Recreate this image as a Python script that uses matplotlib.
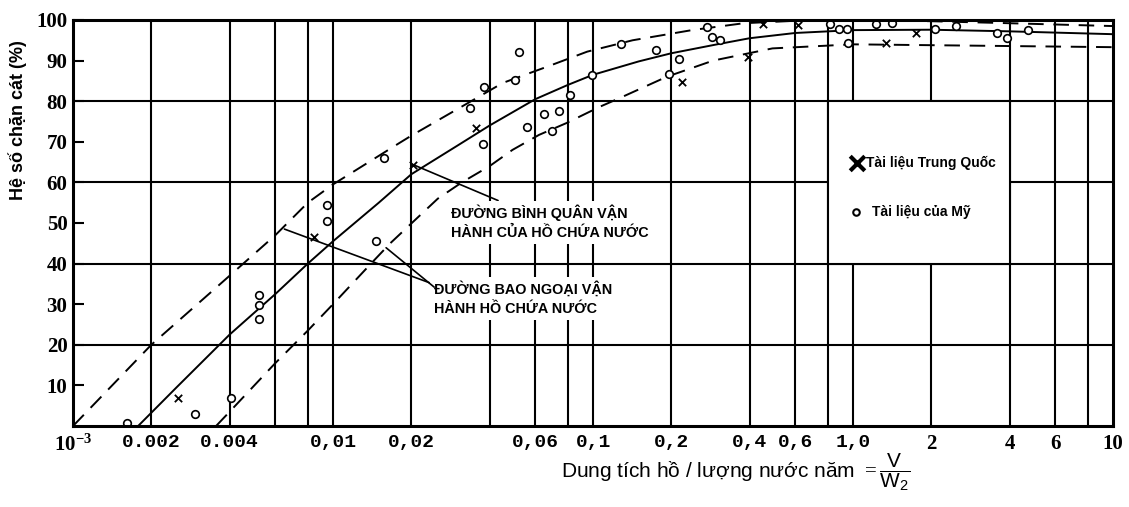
import numpy as np
import matplotlib
matplotlib.use("Agg")
import matplotlib.pyplot as plt
from matplotlib.patches import Rectangle

plt.rcParams["font.family"] = ["Liberation Sans", "DejaVu Sans"]
plt.rcParams["mathtext.fontset"] = "custom"
plt.rcParams["mathtext.rm"] = "Liberation Serif"
plt.rcParams["mathtext.bf"] = "Liberation Serif:bold"
plt.rcParams["mathtext.sf"] = "Liberation Sans"

# đường bình quân (nét liền)
mean_x = [0.00178, 0.0025, 0.004, 0.006, 0.008, 0.01, 0.015, 0.02, 0.03, 0.04, 0.06,
          0.08, 0.1, 0.15, 0.2, 0.3, 0.4, 0.6, 1.0, 2.0, 4.0, 10.0]
mean_y = [0, 9.5, 22.5, 32.5, 40, 45.5, 55, 62, 69, 74, 80.5,
          84, 86.5, 89.8, 91.8, 94, 95.5, 96.8, 97.5, 97.6, 97.2, 96.5]

# đường bao trên (nét đứt)
up_x = [0.001, 0.002, 0.004, 0.006, 0.008, 0.01, 0.018, 0.02, 0.03, 0.045, 0.066,
        0.095, 0.142, 0.24, 0.38, 0.6, 1.0, 2.0, 4.0, 10.0]
up_y = [0, 20, 37, 47, 55, 59.5, 69.7, 71.5, 78, 84.5, 88.4,
        92.2, 95, 97.5, 99.2, 99.8, 100, 99.7, 99.2, 98.5]

# đường bao dưới (nét đứt)
lo_x = [0.00355, 0.004, 0.006, 0.008, 0.01, 0.014, 0.0166, 0.0201, 0.0253, 0.0313,
        0.04, 0.049, 0.062, 0.079, 0.106, 0.127, 0.192, 0.29, 0.49, 1.0, 10.0]
lo_y = [0, 3.5, 15.5, 23.5, 30, 40, 45, 50, 56, 60,
        64, 68, 71.7, 74.6, 78.6, 80.8, 86, 90, 93, 94, 93.3]

# tài liệu của Mỹ
us_x = [0.00161, 0.00294, 0.00404, 0.00521, 0.00521, 0.00521, 0.0095, 0.0095, 0.0146,
        0.0157, 0.0336, 0.0379, 0.0382, 0.0501, 0.0521, 0.0556, 0.0646, 0.0742, 0.0693,
        0.0816, 0.0994, 0.128, 0.175, 0.196, 0.215, 0.275, 0.288, 0.308, 0.818, 0.88,
        0.946, 0.959, 1.23, 1.41, 2.07, 2.5, 3.57, 3.9, 4.72]
us_y = [0.7, 3.0, 6.9, 32.3, 29.8, 26.4, 54.4, 50.6, 45.6,
        65.9, 78.4, 69.5, 83.6, 85.2, 92.0, 73.7, 76.8, 77.7, 72.7,
        81.4, 86.5, 94.1, 92.7, 86.8, 90.3, 98.3, 95.8, 95.0, 99, 97.9,
        97.9, 94.3, 99, 99.2, 97.7, 98.4, 96.7, 95.5, 97.5]

# tài liệu Trung Quốc
cn_x = [0.00254, 0.00845, 0.0203, 0.0355, 0.219, 0.395, 0.452, 0.617, 1.34, 1.75]
cn_y = [6.9, 46.6, 64.3, 73.3, 84.7, 90.9, 99.1, 98.7, 94.3, 96.7]

grid_x = [0.002, 0.004, 0.006, 0.008, 0.01, 0.02, 0.04, 0.06, 0.08, 0.1,
          0.2, 0.4, 0.6, 0.8, 1.0, 2.0, 4.0, 6.0, 8.0]
grid_y = [20, 40, 60, 80]
tick_x = [0.001, 0.002, 0.004, 0.01, 0.02, 0.06, 0.1, 0.2, 0.4, 0.6, 1.0, 2.0, 4.0, 6.0, 10.0]
tick_lab = [r"$\mathbf{10^{-3}}$", "0.002", "0.004", "0,01", "0,02", "0,06", "0,1",
            "0,2", "0,4", "0,6", "1,0", "2", "4", "6", "10"]

fig = plt.figure(figsize=(11.29, 5.07), dpi=100)
ax = fig.add_axes([0.0647, 0.1598, 0.9211, 0.8008])
ax.set_xscale("log")
ax.set_xlim(0.001, 10)
ax.set_ylim(0, 100)

for gx in grid_x:
    ax.axvline(gx, color="black", lw=1.5, zorder=1)
for gy in grid_y:
    ax.axhline(gy, color="black", lw=1.5, zorder=1)

# ô chú giải
ax.add_patch(Rectangle((0.8, 40), 3.2, 40, facecolor="white", edgecolor="black",
                       lw=1.5, zorder=1.5))

ax.plot(mean_x, mean_y, color="black", lw=1.4, zorder=3)
ax.plot(up_x, up_y, color="black", lw=1.4, ls=(0, (8, 5)), zorder=3)
ax.plot(lo_x, lo_y, color="black", lw=1.4, ls=(0, (8, 5)), zorder=3)
ax.scatter(us_x, us_y, s=30, facecolors="white", edgecolors="black", linewidths=1.2, zorder=4)
ax.scatter(cn_x, cn_y, s=28, marker="x", color="black", linewidths=1.3, zorder=4)

box = dict(facecolor="white", edgecolor="none", pad=3)
ax.annotate("ĐƯỜNG BÌNH QUÂN VẬN\nHÀNH CỦA HỒ CHỨA NƯỚC", xy=(0.0201, 64.5),
            xytext=(0.0285, 54.5), ha="left", va="top", fontsize=10.4, fontweight="bold",
            linespacing=1.45, bbox=box, zorder=5,
            arrowprops=dict(arrowstyle="-", color="black", lw=1.2, shrinkA=0, shrinkB=0))
ax.annotate("ĐƯỜNG BAO NGOẠI VẬN\nHÀNH HỒ CHỨA NƯỚC", xy=(0.0065, 48.5),
            xytext=(0.0245, 35.7), ha="left", va="top", fontsize=10.4, fontweight="bold",
            linespacing=1.45, bbox=box, zorder=5,
            arrowprops=dict(arrowstyle="-", color="black", lw=1.2, shrinkA=0, shrinkB=0,
                            relpos=(0, 0.9)))
ax.annotate("", xy=(0.016, 43.9), xytext=(0.0245, 34.2), zorder=5,
            arrowprops=dict(arrowstyle="-", color="black", lw=1.2, shrinkA=0, shrinkB=0))

# chú giải
ax.scatter([1.036], [64.8], s=110, marker="x", color="black", linewidths=3, zorder=4)
ax.text(1.12, 64.8, "Tài liệu Trung Quốc", fontsize=10, fontweight="bold", va="center", zorder=5)
ax.scatter([1.03], [52.7], s=22, facecolors="white", edgecolors="black", linewidths=1.5, zorder=4)
ax.text(1.18, 52.7, "Tài liệu của Mỹ", fontsize=10, fontweight="bold", va="center", zorder=5)

ax.set_xticks(tick_x)
ax.set_xticklabels(tick_lab)
ax.minorticks_off()
ax.tick_params(axis="x", length=0, pad=6)
for lab in ax.get_xticklabels():
    if lab.get_text() in ("2", "4", "6", "10") or lab.get_text().startswith("$"):
        lab.set_fontfamily("Liberation Serif")
        lab.set_fontsize(15)
    else:
        lab.set_fontfamily("Liberation Mono")
        lab.set_fontsize(14)
    lab.set_fontweight("bold")

ax.set_yticks(range(10, 101, 10))
ax.tick_params(axis="y", direction="in", length=8, width=1.5, pad=4)
for lab in ax.get_yticklabels():
    lab.set_fontfamily("Liberation Serif")
    lab.set_fontsize(15)
    lab.set_fontweight("bold")

for sp in ax.spines.values():
    sp.set_linewidth(2.2)
    sp.set_zorder(6)

fig.text(0.016, 0.763, "Hệ số chặn cát (%)", rotation=90, ha="center", va="center",
         fontsize=13, fontweight="bold")
fig.text(0.652, 0.068, r"Dung tích hồ / lượng nước năm $=\dfrac{\mathsf{V}}{\mathsf{W_2}}$",
         ha="center", va="center", fontsize=15)

fig.savefig("out.png", dpi=100, facecolor="white")
